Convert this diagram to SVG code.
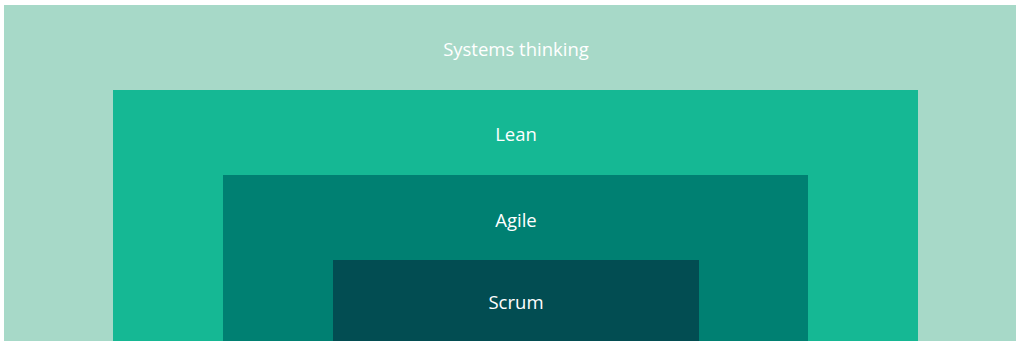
<svg xmlns="http://www.w3.org/2000/svg" width="1016" height="341" viewBox="0 0 1016 341">
<style>
text{font-family:"Open Sans","Liberation Sans",sans-serif;font-size:18.5px;fill:#ffffff;text-anchor:middle}
</style>
<rect width="1016" height="341" fill="#ffffff"/>
<g id="systems-thinking"><rect x="4" y="5" width="1012" height="336" fill="#a7d9c8"/><text x="516" y="56">Systems thinking</text></g>
<g id="lean"><rect x="113" y="90" width="805" height="251" fill="#15b894"/><text x="516" y="141">Lean</text></g>
<g id="agile"><rect x="223" y="175" width="585" height="166" fill="#008072"/><text x="516" y="227">Agile</text></g>
<g id="scrum"><rect x="333" y="260" width="366" height="81" fill="#024d52"/><text x="516" y="309">Scrum</text></g>
<g id="connectors"/>
</svg>
